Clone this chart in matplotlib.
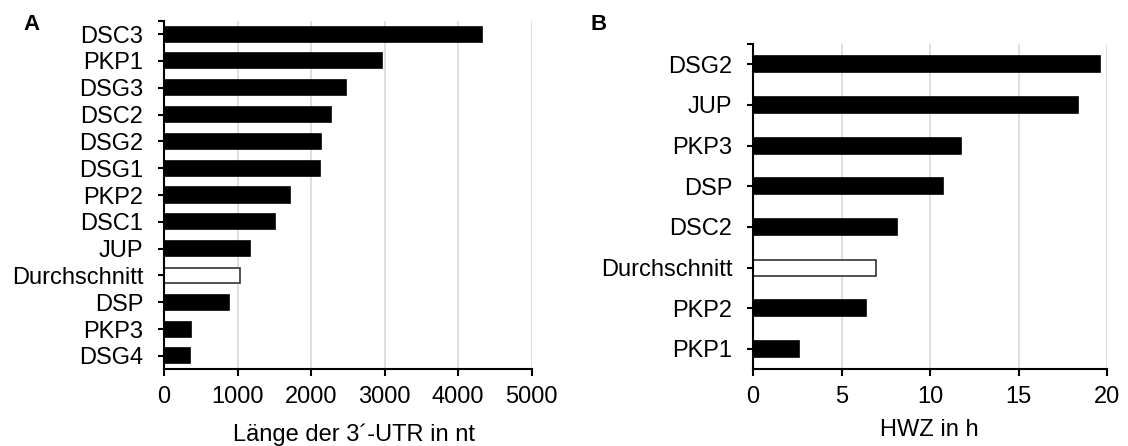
import matplotlib
matplotlib.use("Agg")
import matplotlib.pyplot as plt

plt.rcParams['font.family'] = ['Liberation Sans', 'DejaVu Sans']

# Panel A data
cats_a = ["DSC3", "PKP1", "DSG3", "DSC2", "DSG2", "DSG1", "PKP2", "DSC1",
          "JUP", "Durchschnitt", "DSP", "PKP3", "DSG4"]
vals_a = [4320, 2970, 2480, 2271, 2135, 2117, 1714, 1505, 1174, 1034, 879, 372, 354]
xticks_a = [0, 1000, 2000, 3000, 4000, 5000]
xlabel_a = "Länge der 3´-UTR in nt"

# Panel B data
cats_b = ["DSG2", "JUP", "PKP3", "DSP", "DSC2", "Durchschnitt", "PKP2", "PKP1"]
vals_b = [19.6, 18.35, 11.76, 10.71, 8.12, 6.97, 6.37, 2.6]
xticks_b = [0, 5, 10, 15, 20]
xlabel_b = "HWZ in h"

W, H = 1128, 446
FS = 17
fig = plt.figure(figsize=(W / 100, H / 100), dpi=100)

def px(l, t, r, b):
    return [l / W, 1 - b / H, (r - l) / W, (b - t) / H]

ax_a = fig.add_axes(px(164, 20.7, 531.7, 369.3))
ax_b = fig.add_axes(px(753, 44, 1107.3, 369.3))

def draw(ax, cats, vals, xticks, height):
    n = len(cats)
    ys = list(range(n))
    faces = ["white" if c == "Durchschnitt" else "black" for c in cats]
    edges = ["#333333" if c == "Durchschnitt" else "black" for c in cats]
    ax.barh(ys, vals, height=height, color=faces, edgecolor=edges,
            linewidth=1.2, zorder=3)
    ax.set_ylim(n - 0.5, -0.5)
    ax.set_xlim(xticks[0], xticks[-1])
    ax.set_xticks(xticks)
    ax.set_yticks(ys)
    ax.set_yticklabels(cats)
    ax.set_yticks([-0.5], minor=True)
    ax.tick_params(axis='y', which='both', direction='out', length=4, width=1.5,
                   pad=11, labelsize=FS, colors='black')
    ax.tick_params(axis='x', direction='out', length=5, width=1.5, pad=7,
                   labelsize=FS, colors='black')
    ax.grid(axis='x', color='#d9d9d9', linewidth=1.2, zorder=0)
    ax.set_axisbelow(True)
    for s in ['top', 'right']:
        ax.spines[s].set_visible(False)
    for s in ['left', 'bottom']:
        ax.spines[s].set_linewidth(1.5)
        ax.spines[s].set_zorder(4)

draw(ax_a, cats_a, vals_a, xticks_a, 0.56)
draw(ax_b, cats_b, vals_b, xticks_b, 0.39)

fig.text(354 / W, 1 - 441 / H, xlabel_a, ha='center', va='baseline', fontsize=FS)
fig.text(929 / W, 1 - 436 / H, xlabel_b, ha='center', va='baseline', fontsize=FS)

fig.text(32 / W, 1 - 25 / H, "A", ha='center', va='center', fontsize=16, fontweight='bold')
fig.text(599 / W, 1 - 25 / H, "B", ha='center', va='center', fontsize=16, fontweight='bold')

fig.savefig("out.png", dpi=100)
